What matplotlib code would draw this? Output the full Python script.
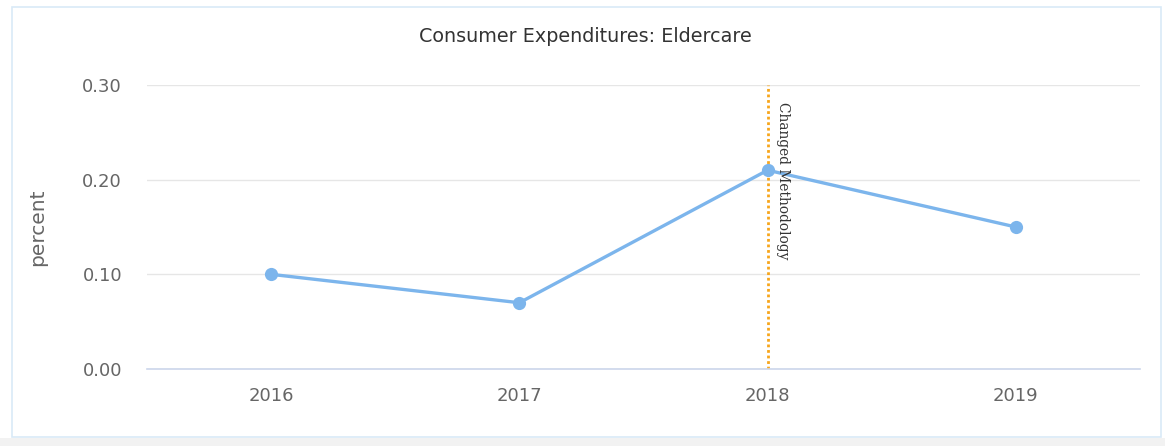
import matplotlib.pyplot as plt
from matplotlib.patches import Rectangle

years = ["2016", "2017", "2018", "2019"]
values = [0.10, 0.07, 0.21, 0.15]
yticks = [0.0, 0.1, 0.2, 0.3]
method_change_idx = 2
title = "Consumer Expenditures: Eldercare"

W, H = 1165, 446
fig = plt.figure(figsize=(W / 100, H / 100), dpi=100)
fig.patch.set_facecolor("white")

# outer frame and grey strip at the bottom
fig.patches.append(Rectangle((0, 0), 1, 8 / H, transform=fig.transFigure,
                             facecolor="#f2f2f2", edgecolor="none", zorder=-2))
fig.patches.append(Rectangle((12 / W, 9 / H), 1149 / W, 430 / H, transform=fig.transFigure,
                             facecolor="white", edgecolor="#d9eaf7", linewidth=1.2, zorder=-1))

ax = fig.add_axes([147 / W, (H - 369) / H, 993 / W, 284 / H])
ax.set_zorder(2)
ax.set_facecolor("none")
x = list(range(len(years)))
ax.plot(x, values, color="#7cb5ec", linewidth=2.4, marker="o", markersize=9.5,
        markeredgewidth=0, zorder=3, clip_on=False)

ax.set_xlim(-0.5, len(years) - 0.5)
ax.set_ylim(0, 0.3)
ax.set_xticks(x)
ax.set_xticklabels(years)
ax.set_yticks(yticks)
ax.set_yticklabels([f"{v:.2f}" for v in yticks])
ax.grid(axis="y", color="#e6e6e6", linewidth=1)
ax.set_axisbelow(True)
for s in ["top", "right", "left"]:
    ax.spines[s].set_visible(False)
ax.spines["bottom"].set_color("#ccd6eb")
ax.spines["bottom"].set_linewidth(1.2)
ax.tick_params(axis="both", length=0, labelsize=13, colors="#666666")
ax.tick_params(axis="x", pad=13)
ax.tick_params(axis="y", pad=18)

ax.axvline(method_change_idx, color="#f7a61c", linestyle=(0, (1, 1)), linewidth=2, zorder=2)
ax.text(method_change_idx + 0.033, 0.282, "Changed Methodology", rotation=-90,
        ha="left", va="top", fontsize=9.9, family="DejaVu Serif", color="#333333")

fig.text(585 / W, 1 - 37 / H, title, ha="center", va="center", fontsize=13.8, color="#333333")
fig.text(38 / W, 1 - 227 / H, "percent", rotation=90, ha="center", va="center",
         fontsize=14.5, color="#666666")

fig.savefig("out.png", dpi=100)
